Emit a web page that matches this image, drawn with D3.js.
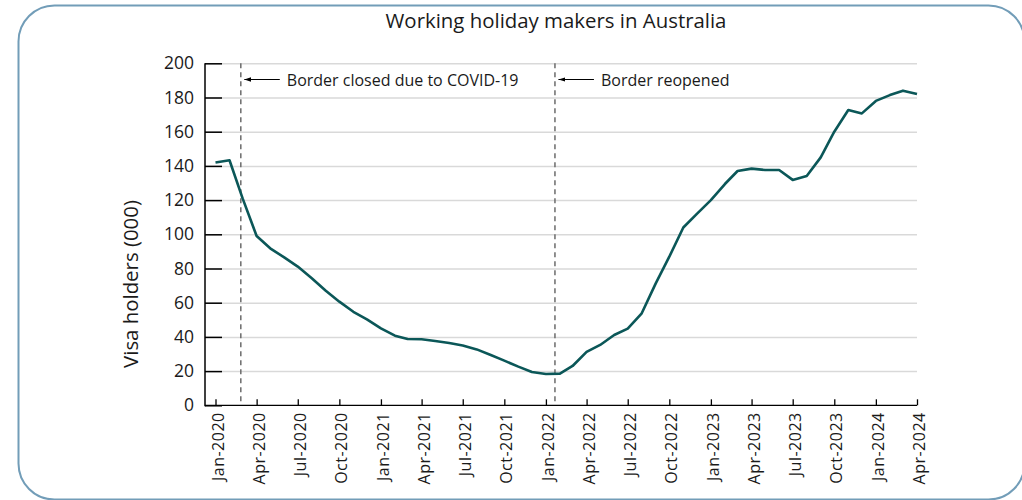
<!DOCTYPE html>
<html>
<head>
<meta charset="utf-8">
<script src="https://cdn.jsdelivr.net/npm/d3@7"></script>
<style>
  body { margin: 0; background: #fff; }
  svg { display: block; font-family: "Open Sans", sans-serif; }
</style>
</head>
<body>
<div id="chart"></div>
<script>
const title = 'Working holiday makers in Australia'
const yLabel = 'Visa holders (000)'
const firstMonth = '2020-01'
// monthly, Jan-2020 .. Apr-2024
const visaHolders = [
  142, 143.3, 121, 99, 91.8, 86.5, 81.1, 74.3, 67, 60.6, 54.7, 50.3,
  45, 40.7, 38.8, 38.6, 37.6, 36.4, 35, 32.7, 29.4, 26.1, 22.6, 19.5,
  18.3, 18.5, 23, 31.2, 35.3, 41.1, 44.8, 53.8, 71.3, 86.9, 104, 111.9,
  120, 129.4, 137, 138.4, 137.6, 137.6, 131.8, 134.1, 145, 160, 172.7, 170.7,
  178, 181.4, 184, 182
]
const tickLabels = ['Jan-2020', 'Apr-2020', 'Jul-2020', 'Oct-2020', 'Jan-2021', 'Apr-2021',
  'Jul-2021', 'Oct-2021', 'Jan-2022', 'Apr-2022', 'Jul-2022', 'Oct-2022', 'Jan-2023',
  'Apr-2023', 'Jul-2023', 'Oct-2023', 'Jan-2024', 'Apr-2024']
const yTicks = [0, 20, 40, 60, 80, 100, 120, 140, 160, 180, 200]
const eventDates = ['2020-02-26', '2022-01-21']
const eventLabels = ['Border closed due to COVID-19', 'Border reopened']

const w = 1022
const h = 500
const plotLeft = 205
const plotRight = 917
const plotTop = 63.3
const plotBottom = 405.3

const parseMonth = d3.timeParse('%Y-%m')
const parseTick = d3.timeParse('%b-%Y')
const parseDay = d3.timeParse('%Y-%m-%d')
const start = parseMonth(firstMonth)
const data = visaHolders.map((v, i) => ({ date: d3.timeMonth.offset(start, i), value: v }))
const tickDates = tickLabels.map(parseTick)

const x = d3.scaleTime()
  .domain([tickDates[0], tickDates[tickDates.length - 1]])
  .range([215.5, plotRight])
const y = d3.scaleLinear()
  .domain([0, 200])
  .range([plotBottom, plotTop])

const svg = d3.select('#chart').append('svg')
  .attr('width', w)
  .attr('height', h)

// frame (right edge runs just off the page)
svg.append('rect')
  .attr('x', 18.5)
  .attr('y', 5.5)
  .attr('width', 1006)
  .attr('height', 494)
  .attr('rx', 36)
  .attr('fill', 'none')
  .attr('stroke', '#729db8')
  .attr('stroke-width', 2)

// gridlines
svg.append('g')
  .attr('transform', `translate(${plotLeft},0)`)
  .call(d3.axisLeft(y).tickValues(yTicks.slice(1)).tickSize(-(plotRight - plotLeft)).tickFormat(''))
  .call(g => g.select('.domain').remove())
  .selectAll('line')
  .attr('stroke', '#d9d9d9')
  .attr('stroke-width', 1.5)

svg.append('defs').append('marker')
  .attr('id', 'arrow')
  .attr('viewBox', '0 0 10 10')
  .attr('refX', 0)
  .attr('refY', 5)
  .attr('markerWidth', 7)
  .attr('markerHeight', 7)
  .attr('markerUnits', 'userSpaceOnUse')
  .attr('orient', 'auto')
  .append('path')
  .attr('d', 'M0,5 L10,1.8 L10,8.2 Z')
  .attr('fill', '#000')

// event markers
const ev = svg.append('g')
  .selectAll('g')
  .data(eventDates.map((d, i) => ({ date: parseDay(d), label: eventLabels[i] })))
  .enter()
  .append('g')
  .attr('transform', d => `translate(${x(d.date)},0)`)

ev.append('line')
  .attr('y1', plotTop)
  .attr('y2', plotBottom)
  .attr('stroke', '#6b6b6b')
  .attr('stroke-width', 1.5)
  .attr('stroke-dasharray', '5,4')
ev.append('line')
  .attr('x1', 3.5)
  .attr('x2', 39)
  .attr('y1', 79.5)
  .attr('y2', 79.5)
  .attr('stroke', '#000')
  .attr('stroke-width', 1)
  .attr('marker-start', 'url(#arrow)')
ev.append('text')
  .attr('x', 46)
  .attr('y', 86)
  .attr('font-size', '16px')
  .attr('fill', '#1a1a1a')
  .text(d => d.label)

// line
const line = d3.line()
  .x(d => x(d.date))
  .y(d => y(d.value))
svg.append('path')
  .datum(data)
  .attr('d', line)
  .attr('fill', 'none')
  .attr('stroke', '#0b5758')
  .attr('stroke-width', 2.6)
  .attr('stroke-linejoin', 'round')

// y axis
svg.append('g')
  .attr('transform', `translate(${plotLeft},0)`)
  .call(d3.axisLeft(y).tickValues(yTicks).tickSize(-17).tickPadding(11))
  .call(g => g.selectAll('path, line').attr('stroke', '#000').attr('stroke-width', 1.5))
  .call(g => g.select('.domain').attr('d', `M0,${plotTop}V${plotBottom + 1}`))
  .selectAll('text')
  .attr('font-size', '17.5px')
  .attr('font-family', '"Open Sans", sans-serif')
  .attr('fill', '#1a1a1a')

// x axis
svg.append('g')
  .attr('transform', `translate(0,${plotBottom})`)
  .call(d3.axisBottom(x).tickValues(tickDates).tickFormat(d3.timeFormat('%b-%Y')).tickSize(-6))
  .call(g => g.selectAll('path, line').attr('stroke', '#000').attr('stroke-width', 1.3))
  .call(g => g.select('.domain').attr('d', `M${plotLeft},0H${plotRight}`))
  .selectAll('text')
  .attr('transform', 'rotate(-90)')
  .attr('x', -7)
  .attr('y', 2)
  .attr('dy', '0.35em')
  .attr('text-anchor', 'end')
  .attr('font-size', '16px')
  .attr('letter-spacing', '0.5px')
  .attr('font-family', '"Open Sans", sans-serif')
  .attr('fill', '#1a1a1a')

// title and y label
svg.append('text')
  .attr('x', 556)
  .attr('y', 28)
  .attr('text-anchor', 'middle')
  .attr('font-size', '20.4px')
  .attr('fill', '#1a1a1a')
  .text(title)
svg.append('text')
  .attr('transform', 'translate(138,284) rotate(-90)')
  .attr('text-anchor', 'middle')
  .attr('font-size', '20.4px')
  .attr('fill', '#1a1a1a')
  .text(yLabel)
</script>
</body>
</html>
